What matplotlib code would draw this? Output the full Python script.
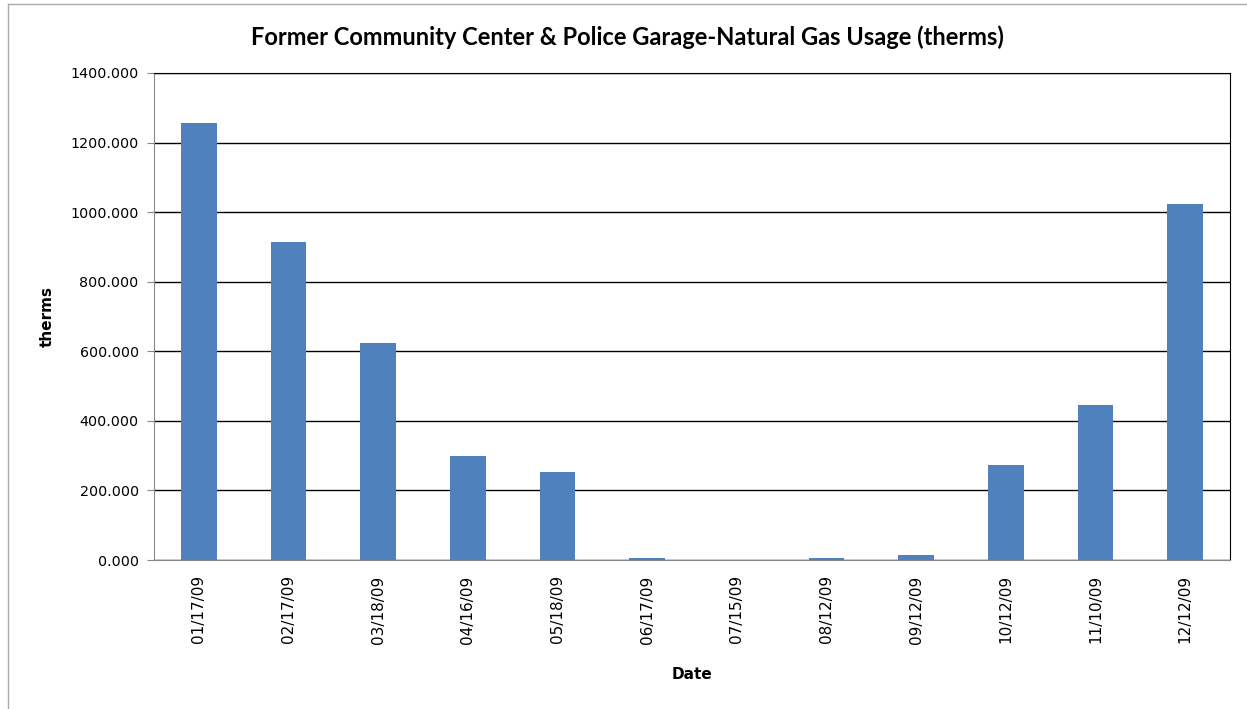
import numpy as np
import matplotlib.pyplot as plt
from matplotlib.lines import Line2D

dates = ['01/17/09', '02/17/09', '03/18/09', '04/16/09', '05/18/09', '06/17/09',
         '07/15/09', '08/12/09', '09/12/09', '10/12/09', '11/10/09', '12/12/09']
therms = [1256, 914, 624, 299, 253, 5, 0, 5, 14, 273, 446, 1024]
yticks = np.arange(0, 1401, 200)

fig = plt.figure(figsize=(12.47, 7.09), dpi=100)
ax = fig.add_axes([154 / 1247, 1 - 560 / 709, 1076 / 1247, 487 / 709])

x = np.arange(len(dates))
ax.bar(x, therms, width=0.4, color='#4f81bd', zorder=3)

ax.set_xlim(-0.5, len(dates) - 0.5)
ax.set_ylim(0, 1400)
ax.set_yticks(yticks)
ax.set_yticklabels(['%.3f' % v for v in yticks], fontsize=10.3)
ax.set_xticks(x)
ax.set_xticklabels(dates, rotation=90, fontsize=11)
ax.tick_params(axis='x', length=0, pad=11)
ax.tick_params(axis='y', length=5, color='#888888', pad=6)
ax.yaxis.grid(True, color='black', linewidth=1, zorder=0)

ax.spines['left'].set_color('#888888')
ax.spines['bottom'].set_color('#888888')
ax.spines['top'].set_color('black')
ax.spines['right'].set_color('black')

fig.text(0.503, 1 - 37 / 709,
         'Former Community Center & Police Garage-Natural Gas Usage (therms)',
         fontsize=17, family='Lato', fontweight='bold', ha='center', va='center')
ax.set_xlabel('Date', fontsize=11, fontweight='bold', labelpad=17)
ax.set_ylabel('therms', fontsize=11, fontweight='bold', labelpad=11)

# outer chart frame
fig.add_artist(Line2D([8 / 1247, 1], [1 - 4 / 709, 1 - 4 / 709],
                      transform=fig.transFigure, color='#aaaaaa', lw=1))
fig.add_artist(Line2D([8 / 1247, 8 / 1247], [0, 1 - 4 / 709],
                      transform=fig.transFigure, color='#aaaaaa', lw=1))

fig.savefig('out.png', dpi=100)
